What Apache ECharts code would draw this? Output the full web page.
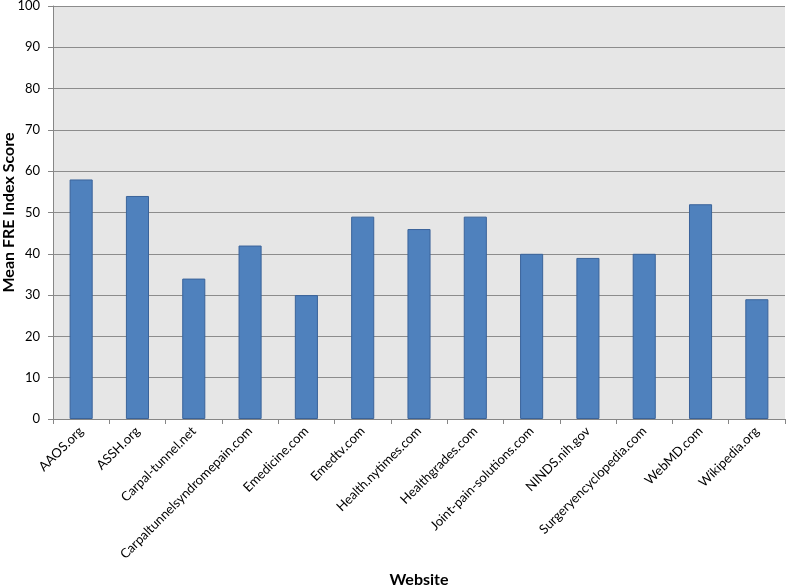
<!DOCTYPE html>
<html><head><meta charset="utf-8">
<script src="https://cdn.jsdelivr.net/npm/echarts@6/dist/echarts.min.js"></script>
<style>html,body{margin:0;padding:0;background:#fff}#c{width:787px;height:585px}</style>
</head><body><div id="c"></div>
<script>
const categories = ["AAOS.org","ASSH.org","Carpal-tunnel.net","Carpaltunnelsyndromepain.com","Emedicine.com","Emedtv.com","Health.nytimes.com","Healthgrades.com","Joint-pain-solutions.com","NINDS.nih.gov","Surgeryencyclopedia.com","WebMD.com","Wikipedia.org"];
const meanFRE = [58,54,34,42,30,49,46,49,40,39,40,52,29];
const yTicks = {min:0,max:100,interval:10};
const font = "Lato, 'Open Sans', sans-serif";
const chart = echarts.init(document.getElementById('c'));
chart.setOption({
  animation:false,
  backgroundColor:'#fff',
  grid:{left:53,right:2,top:6,bottom:166,backgroundColor:'#e6e6e6',show:true,borderWidth:0,
    containLabel:false,outerBoundsMode:'none'},
  xAxis:{type:'category',data:categories,
    name:'Website',nameLocation:'middle',nameGap:153,nameMoveOverlap:false,
    nameTextStyle:{fontFamily:font,fontWeight:'bold',fontSize:16,color:'#000'},
    axisLine:{lineStyle:{color:'#868686',width:1}},
    axisTick:{show:true,length:5,lineStyle:{color:'#868686'}},
    axisLabel:{rotate:45,fontFamily:font,fontSize:13,color:'#000',margin:10,interval:0}},
  yAxis:{type:'value',min:yTicks.min,max:yTicks.max,interval:yTicks.interval,
    name:'Mean FRE Index Score',nameLocation:'middle',nameGap:36,nameMoveOverlap:false,
    nameTextStyle:{fontFamily:font,fontWeight:'bold',fontSize:16,color:'#000'},
    axisLine:{show:true,lineStyle:{color:'#868686',width:1}},
    axisTick:{show:true,length:5,lineStyle:{color:'#868686'}},
    axisLabel:{fontFamily:font,fontSize:13,color:'#000',margin:13},
    splitLine:{show:true,lineStyle:{color:'#8c8c8c',width:1}}},
  series:[{type:'bar',data:meanFRE,barCategoryGap:'59%',
    itemStyle:{color:'#4f81bd',borderColor:'#3a639a',borderWidth:1}}]
});
</script></body></html>
